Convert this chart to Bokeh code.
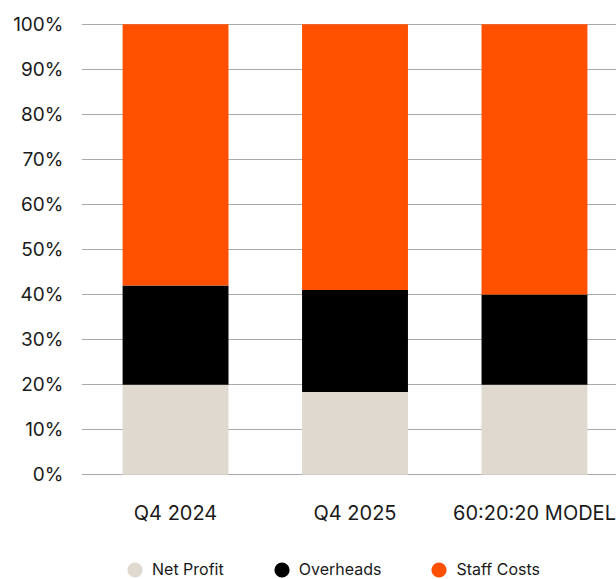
from bokeh.plotting import figure
from bokeh.layouts import column
from bokeh.models import Range1d, FixedTicker, Legend, LegendItem, NumeralTickFormatter, ColumnDataSource
from bokeh.embed import file_html
from bokeh.resources import INLINE

categories = ["Q4 2024", "Q4 2025", "60:20:20 MODEL"]
series = ["Net Profit", "Overheads", "Staff Costs"]
net_profit = [0.20, 0.184, 0.20]
overheads = [0.22, 0.226, 0.20]
staff_costs = [0.58, 0.59, 0.60]
colors = ["#DFD9CF", "#000000", "#FF5000"]
y_ticks = [i / 10 for i in range(11)]

FONT = "Inter"

idx = list(range(len(categories)))
src = ColumnDataSource(dict(x=idx, **{series[0]: net_profit, series[1]: overheads, series[2]: staff_costs}))

p = figure(width=616, height=540, output_backend="svg", toolbar_location=None,
           x_range=Range1d(-0.524, 2.457), y_range=Range1d(-0.0015, 1.0015),
           min_border_left=81, min_border_right=0, min_border_top=23, min_border_bottom=65)
p.outline_line_color = None
p.background_fill_color = "white"

p.vbar_stack(series, x="x", width=0.59, color=colors, source=src, line_color=None)

p.xgrid.grid_line_color = None
p.ygrid.grid_line_color = "#aaaaaa"
p.ygrid.grid_line_width = 1
p.ygrid.ticker = FixedTicker(ticks=y_ticks)

for ax in (p.xaxis, p.yaxis):
    ax.axis_line_color = None
    ax.major_tick_line_color = None
    ax.minor_tick_line_color = None
    ax.major_tick_out = 0
    ax.major_tick_in = 0
    ax.minor_tick_out = 0
    ax.minor_tick_in = 0
    ax.major_label_text_font = FONT
    ax.major_label_text_color = "#1a1a1a"

p.yaxis.ticker = FixedTicker(ticks=y_ticks)
p.yaxis.formatter = NumeralTickFormatter(format="0%")
p.yaxis.major_label_standoff = 18
p.yaxis.major_label_text_font_size = "19px"

p.xaxis.ticker = FixedTicker(ticks=idx)
p.xaxis.major_label_overrides = {i: c for i, c in zip(idx, categories)}
p.xaxis.major_label_standoff = 25
p.xaxis.major_label_text_font_size = "20px"

# legend strip below the chart
p2 = figure(width=616, height=39, output_backend="svg", toolbar_location=None,
            x_axis_location=None, y_axis_location=None,
            min_border_left=0, min_border_right=0, min_border_top=0, min_border_bottom=0)
p2.outline_line_color = None
p2.grid.visible = False

nan = float("nan")
items = []
for name, col in zip(series, colors):
    r = p2.ellipse(x=[nan], y=[nan], width=15, height=15, width_units="screen",
                   height_units="screen", fill_color=col, line_color=None)
    items.append(LegendItem(label=name, renderers=[r]))

legend = Legend(items=items, orientation="horizontal", location=(44, 0),
                glyph_width=19, glyph_height=19, label_standoff=8, spacing=48,
                padding=0, margin=0, border_line_color=None, background_fill_alpha=0,
                label_text_font=FONT, label_text_font_size="16px", label_text_color="#1a1a1a")
p2.add_layout(legend, "center")

layout = column(p, p2, spacing=0)
open("out.html", "w").write(file_html(layout, INLINE))
